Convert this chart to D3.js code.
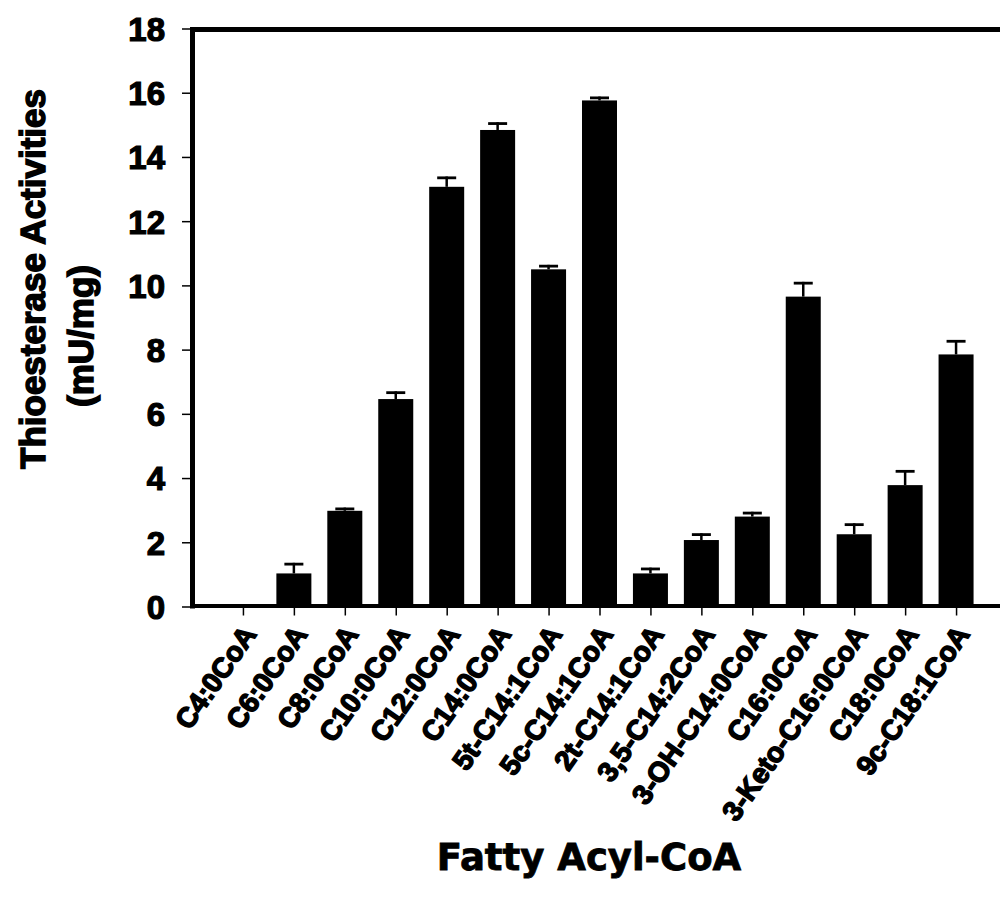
<!DOCTYPE html>
<html>
<head>
<meta charset="utf-8">
<script src="https://cdn.jsdelivr.net/npm/d3@7"></script>
<style>
  html, body { margin: 0; padding: 0; background: #fff; }
  svg { display: block; }
  text { font-family: "Liberation Sans", Arial, sans-serif; font-weight: bold; fill: #000; }
</style>
</head>
<body>
<svg id="chart" width="1000" height="904"></svg>
<script>
// Thioesterase activity towards each fatty acyl-CoA substrate (mean and error)
const categories = [
  "C4:0CoA", "C6:0CoA", "C8:0CoA", "C10:0CoA", "C12:0CoA", "C14:0CoA",
  "5t-C14:1CoA", "5c-C14:1CoA", "2t-C14:1CoA", "3,5-C14:2CoA",
  "3-OH-C14:0CoA", "C16:0CoA", "3-Keto-C16:0CoA", "C18:0CoA", "9c-C18:1CoA"
];
const activity = [0, 1.03, 2.98, 6.46, 13.07, 14.84, 10.50, 15.76, 1.03, 2.07, 2.80, 9.65, 2.25, 3.78, 7.85];
const errors   = [0, 0.33, 0.10, 0.24, 0.32, 0.24, 0.14, 0.12, 0.18, 0.21, 0.15, 0.46, 0.34, 0.47, 0.45];
const yTicks = [0, 2, 4, 6, 8, 10, 12, 14, 16, 18];
const yTitle = ["Thioesterase Activities", "(mU/mg)"];
const xTitle = "Fatty Acyl-CoA";

const rows = categories.map((c, i) => ({ name: c, value: activity[i], err: errors[i] }));

const svg = d3.select("#chart");
const plotLeft = 192, plotRight = 1007, plotTop = 28.5, plotBottom = 606.5;

const x = d3.scalePoint().domain(categories).range([plotLeft, plotRight]).padding(1);
const y = d3.scaleLinear().domain([0, 18]).range([plotBottom, plotTop]);
const barW = 35, capW = 19;

// bars
svg.append("g").selectAll("rect").data(rows).join("rect")
  .attr("x", d => x(d.name) - barW / 2)
  .attr("y", d => y(d.value))
  .attr("width", barW)
  .attr("height", d => y(0) - y(d.value))
  .attr("fill", "#000");

// error bars (upper whisker only)
const eb = svg.append("g").selectAll("g").data(rows.filter(d => d.err > 0)).join("g");
eb.append("line")
  .attr("x1", d => x(d.name)).attr("x2", d => x(d.name))
  .attr("y1", d => y(d.value)).attr("y2", d => y(d.value + d.err))
  .attr("stroke", "#000").attr("stroke-width", 2.5);
eb.append("line")
  .attr("x1", d => x(d.name) - capW / 2).attr("x2", d => x(d.name) + capW / 2)
  .attr("y1", d => y(d.value + d.err) + 1.3).attr("y2", d => y(d.value + d.err) + 1.3)
  .attr("stroke", "#000").attr("stroke-width", 2.8);

// y axis ticks and labels
const yAxis = d3.axisLeft(y).tickValues(yTicks).tickSize(9).tickPadding(17).tickFormat(d3.format("d"));
const gy = svg.append("g").attr("transform", `translate(${plotLeft - 1},0)`).call(yAxis);
gy.select(".domain").remove();
gy.selectAll(".tick line").attr("stroke", "#000").attr("stroke-width", 1.5);
gy.selectAll(".tick text").style("font-size", "33px").attr("dy", "0.36em")
  .style("stroke", "#000").style("stroke-width", 1.2);

// x axis ticks and rotated labels
const xAxis = d3.axisBottom(x).tickSize(9).tickFormat(d => d);
const gx = svg.append("g").attr("transform", `translate(0,${plotBottom})`).call(xAxis);
gx.select(".domain").remove();
gx.selectAll(".tick line").attr("stroke", "#000").attr("stroke-width", 1.5);
gx.selectAll(".tick text")
  .style("font-size", "28px")
  .style("stroke", "#000").style("stroke-width", 1.5)
  .attr("text-anchor", "end")
  .attr("y", 0).attr("dy", 0)
  .attr("transform", "translate(14,28) rotate(-55)");

// plot frame: left, top and bottom edges
const frame = svg.append("g").attr("stroke", "#000").attr("fill", "none");
frame.append("line").attr("x1", plotLeft + 0.5).attr("x2", plotLeft + 0.5).attr("y1", 27).attr("y2", 608.5).attr("stroke-width", 5);
frame.append("line").attr("x1", plotLeft - 2).attr("x2", 1005).attr("y1", 29.5).attr("y2", 29.5).attr("stroke-width", 5);
frame.append("line").attr("x1", plotLeft - 2).attr("x2", 1005).attr("y1", 606).attr("y2", 606).attr("stroke-width", 4);

// axis titles
svg.append("text")
  .attr("transform", "translate(45,279) rotate(-90)")
  .attr("text-anchor", "middle")
  .style("font-size", "35px").style("stroke", "#000").style("stroke-width", 1.5)
  .text(yTitle[0]);
svg.append("text")
  .attr("transform", "translate(93,336) rotate(-90)")
  .attr("text-anchor", "middle")
  .style("font-size", "35px").style("stroke", "#000").style("stroke-width", 1.5)
  .text(yTitle[1]);

svg.append("text")
  .attr("x", 589).attr("y", 870)
  .attr("text-anchor", "middle")
  .style("font-family", "'DejaVu Sans', sans-serif")
  .style("font-size", "37px").style("stroke", "#000").style("stroke-width", 0.8)
  .text(xTitle);
</script>
</body>
</html>
